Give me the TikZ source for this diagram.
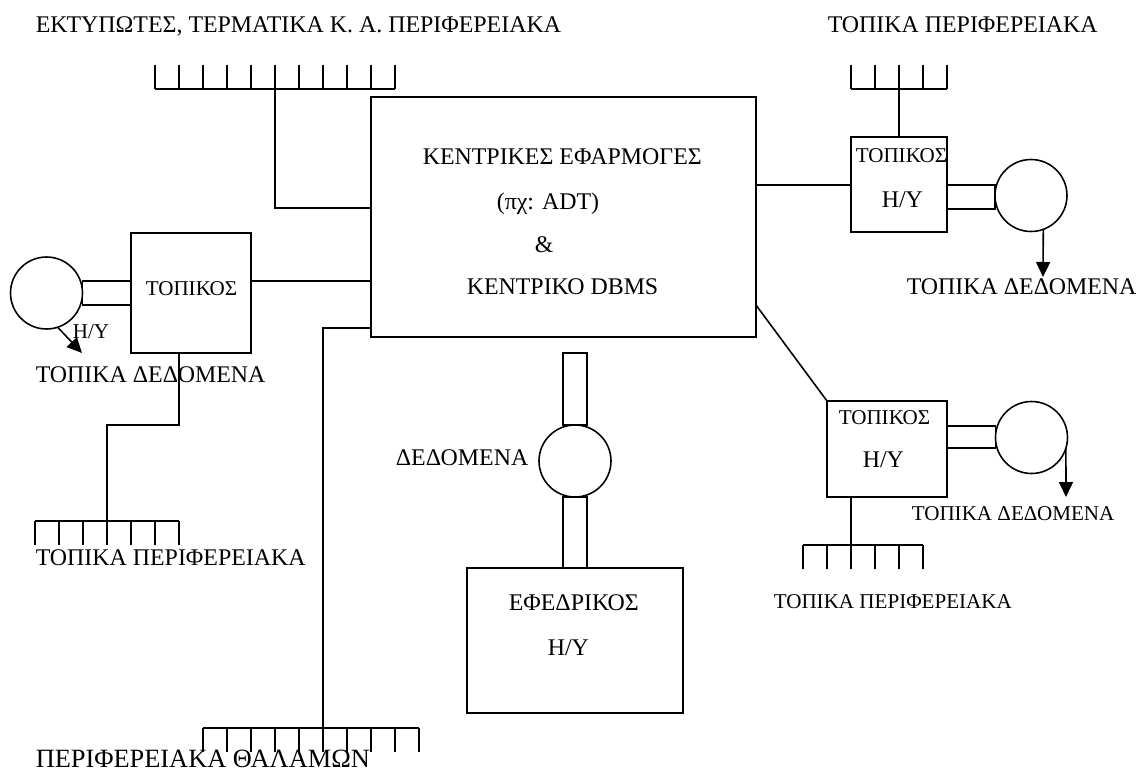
\documentclass[tikz,border=0pt]{standalone}
\usepackage{fontspec}
\setmainfont{Liberation Serif}
\usetikzlibrary{arrows.meta,positioning}

\begin{document}
\begin{tikzpicture}[x=0.02cm, y=-0.02cm, line width=0.9pt,
    hw/.style={draw, outer sep=0pt, inner sep=0pt},
    disk/.style={draw, circle, outer sep=0pt, inner sep=0pt,
      minimum size=1.44cm},
    lbl/.style={anchor=base west, inner sep=0pt,
      font=\fontsize{12}{14}\selectfont},
    lblm/.style={lbl, font=\fontsize{13.6}{16}\selectfont},
    lbll/.style={lbl, font=\fontsize{15}{18}\selectfont},
    fl/.style={-{Triangle[length=3mm, width=2.8mm]}}
  ]
    \useasboundingbox (0,0) rectangle (1140,774);

    % central computer
    \node[hw, minimum width=7.7cm, minimum height=4.8cm] (central)
      at (563.5,217) {};
    \node[lblm] (c1) at (422,164) {ΚΕΝΤΡΙΚΕΣ ΕΦΑΡΜΟΓΕΣ};
    \node[lblm] (c2) at (496,209) {(πχ: ADT)};
    \node[lblm] (c3) at (534,252) {\&};
    \node[lblm] (c4) at (466,294) {ΚΕΝΤΡΙΚΟ DBMS};

    % printers, terminals
    \node[lblm] (tllabel) at (35,32)
      {ΕΚΤΥΠΩΤΕΣ, ΤΕΡΜΑΤΙΚΑ Κ. Α. ΠΕΡΙΦΕΡΕΙΑΚΑ};
    \draw (155,89) -- (395,89);
    \foreach \i in {0,...,10} \draw (155+24*\i,65) -- (155+24*\i,89);
    \coordinate (tlbus) at (275,89);
    \draw (tlbus) |- (central.west |- 0,208);

    % top right local computer
    \node[lblm] (trlabel) at (827,32) {ΤΟΠΙΚΑ ΠΕΡΙΦΕΡΕΙΑΚΑ};
    \draw (851,89) -- (947,89);
    \foreach \i in {0,...,4} \draw (851+24*\i,65) -- (851+24*\i,89);
    \coordinate (trbus) at (899,89);
    \node[hw, minimum width=1.92cm, minimum height=1.9cm] (trpc)
      at (899,184.5) {};
    \draw (trbus) -- (trpc.north);
    \node[lbl] (trpc1) at (855,162) {ΤΟΠΙΚΟΣ};
    \node[lblm] (trpc2) at (881,207) {Η/Υ};
    \draw (central.east |- 0,185) -- (trpc.west |- 0,185);
    \node[disk] (trdisk) at (1031,195.5) {};
    \draw (trpc.east |- 0,185) rectangle (trdisk.west |- 0,209);
    \coordinate (trdata) at (1043,277);
    \draw[fl] (trdisk.-70) -- (trdata);
    \node[lblm] (trdlabel) at (906,294) {ΤΟΠΙΚΑ ΔΕΔΟΜΕΝΑ};

    % left local computer
    \node[hw, minimum width=2.4cm, minimum height=2.4cm] (lpc)
      at (191,293) {};
    \node[lbl] (lpc1) at (145,295) {ΤΟΠΙΚΟΣ};
    \draw (lpc.east |- 0,281) -- (central.west |- 0,281);
    \node[disk] (ldisk) at (46.5,293) {};
    \draw (ldisk.east |- 0,281) rectangle (lpc.west |- 0,305);
    \coordinate (ldata) at (82,353);
    \draw[fl] (ldisk.-72) -- (ldata);
    \node[lbl] (lpc2) at (72,338) {Η/Υ};
    \node[lblm] (ldlabel) at (35,382) {ΤΟΠΙΚΑ ΔΕΔΟΜΕΝΑ};
    \coordinate (lbus) at (107,521);
    \draw (lpc.south -| 179,0) -- ++(0,72) -| (lbus);
    \draw (35,521) -- (179,521);
    \foreach \i in {0,...,6} \draw (35+24*\i,521) -- (35+24*\i,545);
    \node[lblm] (lplabel) at (35,565) {ΤΟΠΙΚΑ ΠΕΡΙΦΕΡΕΙΑΚΑ};

    % ward peripherals
    \coordinate (bbus) at (323,728);
    \draw (central.west |- 0,328) -| (bbus);
    \draw (203,728) -- (419,728);
    \foreach \i in {0,...,9} \draw (203+24*\i,728) -- (203+24*\i,752);
    \node[lbll] (blabel) at (35,767) {ΠΕΡΙΦΕΡΕΙΑΚΑ ΘΑΛΑΜΩΝ};

    % backup computer
    \node[disk] (bdisk) at (575,461) {};
    \node[hw, minimum width=4.32cm, minimum height=2.9cm] (backup)
      at (575,640.5) {};
    \draw (bdisk.north) ++(-12,0) rectangle ++(24,-72);
    \draw (bdisk.south) ++(-12,0) rectangle ([xshift=0.24cm]backup.north);
    \node[lblm] (bdlabel) at (395,465) {ΔΕΔΟΜΕΝΑ};
    \node[lblm] (backup1) at (508,610) {ΕΦΕΔΡΙΚΟΣ};
    \node[lblm] (backup2) at (547,655) {Η/Υ};

    % lower right local computer
    \node[hw, minimum width=2.4cm, minimum height=1.92cm] (lrpc)
      at (887,449) {};
    \draw (central.east |- 0,305) -- (lrpc.north west);
    \node[lbl] (lrpc1) at (838,424) {ΤΟΠΙΚΟΣ};
    \node[lblm] (lrpc2) at (862,467) {Η/Υ};
    \node[disk] (lrdisk) at (1031.5,437.5) {};
    \draw (lrpc.east |- 0,426) rectangle (lrdisk.west |- 0,448);
    \coordinate (lrdata) at (1066,497);
    \draw[fl] (lrdisk.-17) -- (lrdata);
    \node[lbl] (lrdlabel) at (911,520) {ΤΟΠΙΚΑ ΔΕΔΟΜΕΝΑ};
    \coordinate (lrbus) at (851,545);
    \draw (lrpc.south -| lrbus) -- (lrbus);
    \draw (803,545) -- (923,545);
    \foreach \i in {0,...,5} \draw (803+24*\i,545) -- (803+24*\i,569);
    \node[lbl] (lrplabel) at (773,608) {ΤΟΠΙΚΑ ΠΕΡΙΦΕΡΕΙΑΚΑ};
  \end{tikzpicture}
\end{document}
